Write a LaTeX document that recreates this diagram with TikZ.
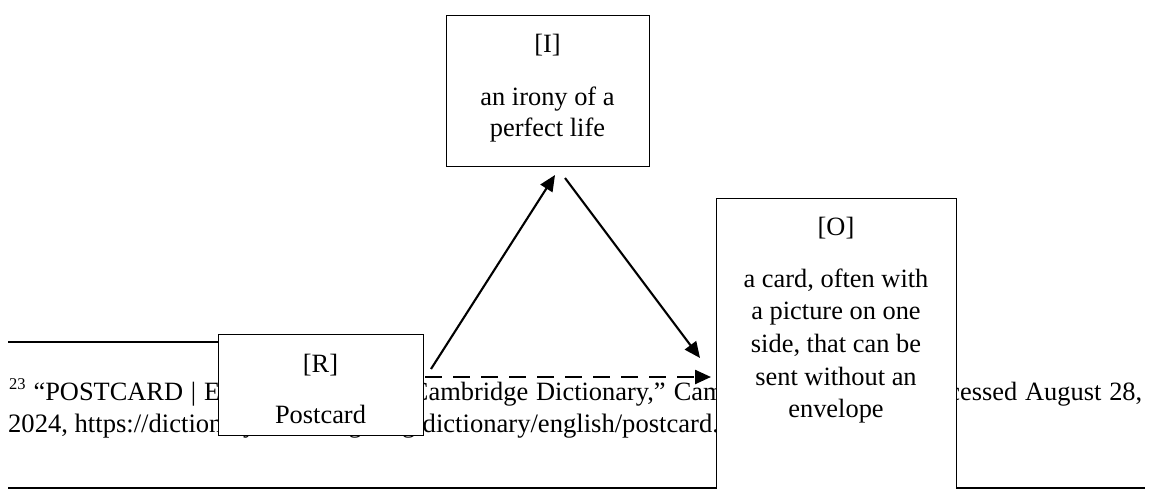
\documentclass[tikz,border=0pt]{standalone}
\usepackage{fontspec}
\setmainfont{Liberation Serif}
\usetikzlibrary{arrows.meta}
\begin{document}
\begin{tikzpicture}[x=1pt,y=-1pt,
  every node/.style={inner sep=0pt, font=\fontsize{26.4}{30}\selectfont},
  boxnode/.style={draw, line width=1.4pt, fill=white, anchor=north west},
  lbl/.style={anchor=base},
  rule/.style={line width=1.4pt},
  arr/.style={line width=2.1pt, -{Triangle[length=16pt,width=14pt]}},
  dasharr/.style={arr, line width=2.4pt, dash pattern=on 17pt off 11pt}]
\useasboundingbox (0,0) rectangle (1153,489);
\clip (0,0) rectangle (1153,489);

% footnote separator and the page rule below
\coordinate (sepL) at (8,342);
\coordinate (sepR) at (230,342);
\draw[rule] (sepL) -- (sepR);
\coordinate (baseL) at (8,488);
\coordinate (baseR) at (1145,488);
\draw[rule] (baseL) -- (baseR);

% footnote text
\node[anchor=base west] (fnA) at (9,400)
  {\makebox[1133pt][s]{\raisebox{11pt}{\fontsize{16.5}{16.5}\selectfont 23} “POSTCARD | English Meaning - Cambridge Dictionary,” Cambridge Dictionary, accessed August 28,}};
\node[anchor=base west, font=\fontsize{26.6}{30}\selectfont] (fnB) at (8,432)
  {2024, https://dictionary.cambridge.org/dictionary/english/postcard.};

% the three boxes
\node[boxnode, minimum width=203pt, minimum height=151pt] (I) at (446,15) {};
\node[boxnode, minimum width=240pt, minimum height=310pt] (O) at (716,198) {};
\node[boxnode, minimum width=205pt, minimum height=101pt] (R) at (218,334) {};

% box texts
\node[lbl] (Ia) at (547.5,53) {[I]};
\node[lbl] (Ib) at (547.5,106) {an irony of a};
\node[lbl] (Ic) at (547.5,137) {perfect life};

\node[lbl] (Oa) at (836,235) {[O]};
\node[lbl] (Ob) at (836,287) {a card, often with};
\node[lbl] (Oc) at (836,319) {a picture on one};
\node[lbl] (Od) at (836,352) {side, that can be};
\node[lbl] (Oe) at (836,385) {sent without an};
\node[lbl] (Of) at (836,417) {envelope};

\node[lbl] (Ra) at (320.5,372) {[R]};
\node[lbl] (Rb) at (320.5,423) {Postcard};

% connector end points
\coordinate (rUp) at (431,369);
\coordinate (iIn) at (555,175);
\coordinate (iOut) at (565,178);
\coordinate (oIn) at (700,358);
\coordinate (rRight) at (425,377);
\coordinate (oLeft) at (711,377);

\draw[arr] (rUp) -- (iIn);
\draw[arr] (iOut) -- (oIn);
\draw[dasharr] (rRight) -- (oLeft);
\end{tikzpicture}
\end{document}
